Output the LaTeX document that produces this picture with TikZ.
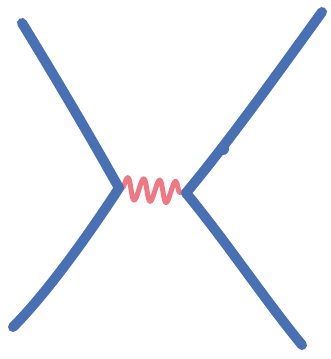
\documentclass[tikz,border=0pt]{standalone}
\usetikzlibrary{decorations.pathmorphing}
\definecolor{fermion}{HTML}{4A70B4}
\definecolor{photon}{HTML}{EE7883}
\tikzset{
  fline/.style={draw=fermion,line width=10pt,line cap=round,line join=round},
  pline/.style={draw=photon,line width=5pt,line cap=round,line join=round,
    decorate,decoration={snake,segment length=16pt,amplitude=11pt,pre length=3pt,post length=3pt}}
}
\begin{document}
\begin{tikzpicture}[x=1pt,y=-1pt]
\useasboundingbox (0,0) rectangle (331,359);
\coordinate (tl) at (22,23);
\coordinate (v1) at (119,188);
\coordinate (bl) at (13,327);
\coordinate (tr) at (322,12);
\coordinate (v2) at (186,193);
\coordinate (br) at (302,345);
\coordinate (knob) at (223,149);
\draw[pline] (v1) -- (v2);
\draw[fline] (tl) .. controls (60,85) and (95,145) .. (v1)
  .. controls (95,225) and (50,290) .. (bl);
\draw[fline] (tr) .. controls (280,70) and (230,140) .. (v2)
  .. controls (225,240) and (265,300) .. (br);
\fill[fermion] (knob) circle (6pt);
\end{tikzpicture}
\end{document}
